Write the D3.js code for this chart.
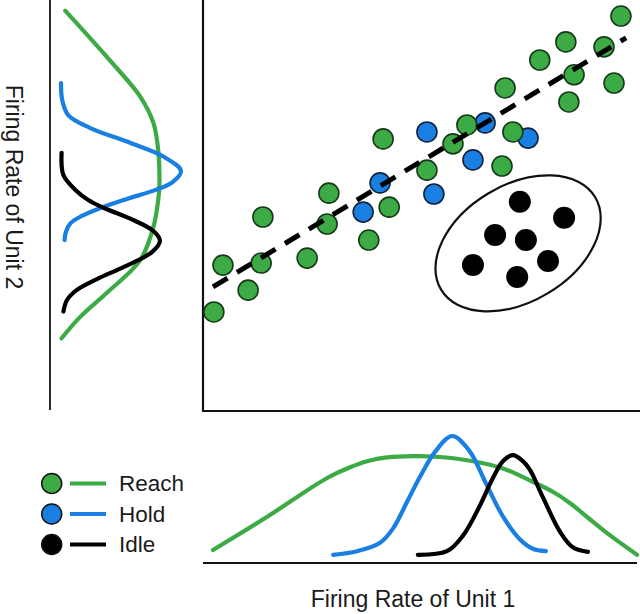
<!DOCTYPE html>
<html>
<head>
<meta charset="utf-8">
<script src="https://cdn.jsdelivr.net/npm/d3@7"></script>
<style>
  html, body { margin: 0; padding: 0; background: #fff; }
  svg { display: block; }
  text { font-family: "Liberation Sans", Arial, sans-serif; fill: #1a1a1a; }
</style>
</head>
<body>
<svg id="chart" width="640" height="614"></svg>
<script>
// ---------- DATA (arbitrary firing-rate units, 0-100) ----------
const categories = ["Reach", "Hold", "Idle"];
const colors = ["#3cab46", "#1a7fe2", "#000000"];

// scatter points [unit1, unit2]
const reachPoints = [[96.3,96.1],[83.6,89.8],[92.4,88.6],[77.6,85.4],[85.5,81.8],[94.7,79.8],
  [69.6,78.6],[84.3,75.2],[41.5,66.2],[60.8,69.6],[71.4,67.9],[57.6,65.0],[68.9,59.6],
  [51.6,58.6],[29.0,53.0],[42.9,49.6],[13.8,47.2],[28.6,45.5],[38.2,41.6],[4.6,35.5],
  [13.4,36.0],[24.0,37.2],[10.4,29.4],[2.5,24.1]];
const holdPoints = [[51.6,67.9],[65.0,70.1],[74.9,66.4],[62.2,61.1],[40.8,55.5],[53.2,52.8],[36.9,48.4]];
const idlePoints = [[73.0,50.9],[83.2,47.0],[67.3,42.8],[74.4,41.6],[62.2,35.5],[79.5,36.5],[72.4,32.6]];

// dashed trend line endpoints
const trendLine = [[2.3,30.2],[97.5,90.8]];

// ellipse around the idle cluster: centre (unit1, unit2), semi-axes (unit1 units), tilt (deg)
const idleEllipse = { cx: 72.6, cy: 40.8, rx: 20.7, ry: 13.4, angle: -31 };

// marginal densities along unit 1: [unit1, density]
const reachUnit1 = [[2.3,0.05],[14.7,0.325],[28.6,0.65],[33.9,0.74],[37.8,0.79],[42.4,0.822],
  [48.4,0.833],[54.6,0.825],[62.2,0.79],[69.1,0.73],[75.3,0.63],[80.6,0.535],[84.6,0.44],
  [88.5,0.325],[93.1,0.19],[100,0.01]];
const holdUnit1 = [[30.0,0.01],[35.5,0.04],[40.8,0.11],[43.8,0.23],[47.0,0.45],[50.0,0.66],
  [53.5,0.87],[57.4,1.0],[61.3,0.88],[65.4,0.59],[69.1,0.33],[73.0,0.14],[76.0,0.06],[79.0,0.04]];
const idleUnit1 = [[49.5,0.01],[56.2,0.04],[59.9,0.17],[63.8,0.42],[66.8,0.65],[69.1,0.79],
  [71.4,0.84],[73.7,0.79],[75.3,0.72],[78.3,0.49],[82.3,0.2],[85.3,0.07],[88.7,0.035]];

// marginal densities along unit 2: [unit2, density]
const reachUnit2 = [[97.4,0.035],[86.2,0.38],[76.5,0.66],[70.1,0.77],[63.5,0.81],[55.0,0.82],
  [51.3,0.81],[44.8,0.77],[36.7,0.66],[28.7,0.38],[22.9,0.16],[17.7,0.005]];
const holdUnit2 = [[79.8,0.0],[75.7,0.01],[72.0,0.06],[68.9,0.24],[65.2,0.58],[61.8,0.86],
  [58.4,1.0],[55.7,0.93],[53.8,0.79],[51.6,0.55],[49.4,0.33],[47.4,0.17],[45.7,0.08],
  [43.5,0.04],[41.6,0.03]];
const idleUnit2 = [[62.8,0.005],[57.4,0.02],[53.8,0.12],[51.3,0.23],[49.4,0.36],[46.5,0.6],
  [43.8,0.77],[41.4,0.825],[38.7,0.76],[35.0,0.52],[32.1,0.3],[29.4,0.13],[27.0,0.05],[24.2,0.02]];

const axisLabelX = "Firing Rate of Unit 1";
const axisLabelY = "Firing Rate of Unit 2";

// ---------- SCALES ----------
const svg = d3.select("#chart");
const x = d3.scaleLinear().domain([0, 100]).range([203, 637]);
const y = d3.scaleLinear().domain([0, 100]).range([411, 0]);
const dBottom = d3.scaleLinear().domain([0, 1]).range([556, 436]);
const dLeft = d3.scaleLinear().domain([0, 1]).range([61, 181]);

// ---------- AXES ----------
const axisG = svg.append("g").attr("stroke", "#111").attr("fill", "none");
axisG.append("path").attr("stroke-width", 2.2)
  .attr("d", `M${x(0)},${y(100)}V${y(0)}H640`);
axisG.append("line").attr("stroke-width", 2)
  .attr("x1", x(0)).attr("x2", x(100)).attr("y1", 563).attr("y2", 563);
axisG.append("line").attr("stroke-width", 1.8)
  .attr("x1", 50).attr("x2", 50).attr("y1", y(100)).attr("y2", 410);

// ---------- MARGINAL DENSITIES ----------
const lineB = d3.line().x(d => x(d[0])).y(d => dBottom(d[1])).curve(d3.curveCatmullRom.alpha(0.5));
const lineL = d3.line().x(d => dLeft(d[1])).y(d => y(d[0])).curve(d3.curveCatmullRom.alpha(0.5));
const bottomSeries = [reachUnit1, holdUnit1, idleUnit1];
const leftSeries = [reachUnit2, holdUnit2, idleUnit2];
bottomSeries.forEach((s, i) => svg.append("path").attr("d", lineB(s)).attr("fill", "none")
  .attr("stroke", colors[i]).attr("stroke-width", 4.2).attr("stroke-linecap", "round"));
leftSeries.forEach((s, i) => svg.append("path").attr("d", lineL(s)).attr("fill", "none")
  .attr("stroke", colors[i]).attr("stroke-width", 4.2).attr("stroke-linecap", "round"));

// ---------- ELLIPSE ----------
const e = idleEllipse;
svg.append("ellipse")
  .attr("cx", 0).attr("cy", 0)
  .attr("rx", x(e.rx) - x(0)).attr("ry", x(e.ry) - x(0))
  .attr("transform", `translate(${x(e.cx)},${y(e.cy)}) rotate(${e.angle})`)
  .attr("fill", "none").attr("stroke", "#111").attr("stroke-width", 2.2);

// ---------- SCATTER ----------
svg.append("g").selectAll("circle").data(holdPoints).join("circle")
  .attr("cx", d => x(d[0])).attr("cy", d => y(d[1])).attr("r", 10)
  .attr("fill", colors[1]).attr("stroke", "#10233a").attr("stroke-width", 1.6);
svg.append("g").selectAll("circle").data(reachPoints).join("circle")
  .attr("cx", d => x(d[0])).attr("cy", d => y(d[1])).attr("r", 10)
  .attr("fill", colors[0]).attr("stroke", "#163a18").attr("stroke-width", 1.6);
svg.append("g").selectAll("circle").data(idlePoints).join("circle")
  .attr("cx", d => x(d[0])).attr("cy", d => y(d[1])).attr("r", 11)
  .attr("fill", colors[2]);

// trend line
svg.append("path")
  .attr("d", d3.line().x(d => x(d[0])).y(d => y(d[1]))(trendLine))
  .attr("fill", "none").attr("stroke", "#000").attr("stroke-width", 5)
  .attr("stroke-dasharray", "17,11");

// ---------- LEGEND ----------
const legend = svg.append("g");
categories.forEach((c, i) => {
  const cy = 483.5 + i * 30.5;
  legend.append("circle").attr("cx", 51.7).attr("cy", cy).attr("r", 10)
    .attr("fill", colors[i]).attr("stroke", "#111").attr("stroke-width", 1.5);
  legend.append("line").attr("x1", 70).attr("x2", 106).attr("y1", cy).attr("y2", cy)
    .attr("stroke", colors[i]).attr("stroke-width", 4.2);
  legend.append("text").attr("x", 119).attr("y", cy + 7.5)
    .attr("font-size", 22.5).text(c);
});

// ---------- AXIS LABELS ----------
svg.append("text").attr("x", 413).attr("y", 607).attr("text-anchor", "middle")
  .attr("font-size", 23).text(axisLabelX);
svg.append("text").attr("text-anchor", "middle").attr("font-size", 23)
  .attr("transform", "translate(6,187) rotate(90)").text(axisLabelY);
</script>
</body>
</html>
